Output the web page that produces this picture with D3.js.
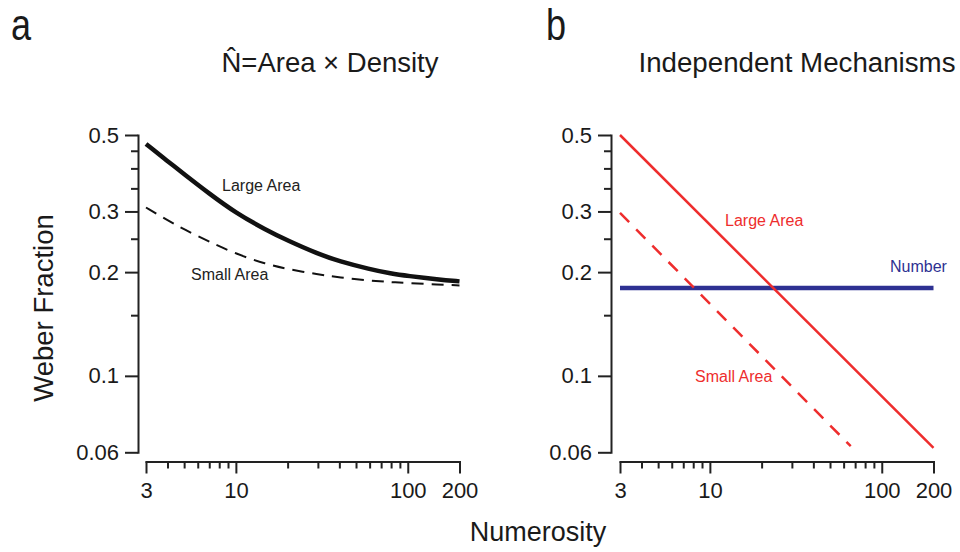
<!DOCTYPE html>
<html>
<head>
<meta charset="utf-8">
<script src="https://cdn.jsdelivr.net/npm/d3@7"></script>
<style>
  body { margin: 0; background: #fff; }
  svg { display: block; }
  text { font-family: "Liberation Sans", Arial, sans-serif; fill: #1a1a1a; }
  .axis path, .axis line { stroke: #222; stroke-width: 2; }
  .axis text { font-size: 22px; fill: #1a1a1a; font-family: "Liberation Sans", Arial, sans-serif; }
</style>
</head>
<body>
<script>
// x ticks (numerosity) and y ticks (weber fraction)
var xMajor = [3, 10, 100, 200];
var xMinor = [4, 5, 6, 7, 8, 9, 20, 30, 40, 50, 60, 70, 80, 90];
var yMajor = [0.5, 0.3, 0.2, 0.1, 0.06];
var yMinor = [0.45, 0.4, 0.35, 0.25, 0.15];

// panel a : N^ = Area x Density
var numerosityA = [3, 4, 5, 7, 10, 15, 20, 30, 40, 60, 80, 100, 150, 200];
var largeAreaA = [0.471, 0.42, 0.385, 0.338, 0.297, 0.265, 0.247, 0.226, 0.215, 0.204, 0.198, 0.195, 0.1905, 0.188];
var smallAreaA = [0.308, 0.283, 0.266, 0.245, 0.226, 0.211, 0.204, 0.197, 0.193, 0.189, 0.187, 0.186, 0.184, 0.183];

// panel b : independent mechanisms
var numerosityLargeB = [3, 200];
var largeAreaB = [0.5, 0.0618];
var numerositySmallB = [3, 66];
var smallAreaB = [0.297, 0.0625];
var numerosityNumberB = [3, 200];
var numberB = [0.18, 0.18];

var width = 960, height = 552;
var svg = d3.select('body').append('svg')
    .attr('width', width)
    .attr('height', height);

var yScale = d3.scaleLog().domain([0.06, 0.5]).range([452.3, 135]);

function zip(xs, ys) {
    return xs.map(function (x, i) { return { x: x, y: ys[i] }; });
}

function drawPanel(left, yAxisX) {
    var xScale = d3.scaleLog().domain([3, 200]).range([left, left + 313.5]);
    var fmt = function (d) { return d3.format('~g')(d); };

    // y axis
    var yAx = svg.append('g').attr('class', 'axis')
        .attr('transform', 'translate(' + yAxisX + ',0)');
    yAx.call(d3.axisLeft(yScale).tickValues(yMinor).tickSize(7).tickSizeOuter(0).tickFormat(''));
    yAx.append('g')
        .call(d3.axisLeft(yScale).tickValues(yMajor).tickSize(13).tickSizeOuter(0).tickPadding(6).tickFormat(fmt))
        .call(function (g) { g.select('.domain').remove(); });

    // x axis
    var xAx = svg.append('g').attr('class', 'axis')
        .attr('transform', 'translate(0,461.5)');
    xAx.call(d3.axisBottom(xScale).tickValues(xMinor).tickSize(7).tickSizeOuter(0).tickFormat(''));
    xAx.append('g')
        .call(d3.axisBottom(xScale).tickValues(xMajor).tickSize(12).tickSizeOuter(0).tickPadding(9).tickFormat(fmt))
        .call(function (g) { g.select('.domain').remove(); });

    svg.selectAll('.axis .domain').attr('stroke-linecap', 'square');
    return xScale;
}

function drawLine(xScale, data, color, w, dash, curved) {
    var line = d3.line()
        .x(function (d) { return xScale(d.x); })
        .y(function (d) { return yScale(d.y); });
    if (curved) line.curve(d3.curveBasis);
    svg.append('path')
        .datum(data)
        .attr('d', line)
        .attr('fill', 'none')
        .attr('stroke', color)
        .attr('stroke-width', w)
        .attr('stroke-dasharray', dash || null);
}

// panel a
var xA = drawPanel(146, 138);
drawLine(xA, zip(numerosityA, smallAreaA), '#111', 2, '12,8', true);
drawLine(xA, zip(numerosityA, largeAreaA), '#111', 4.5, null, true);

// panel b
var red = '#ee2d2d', navy = '#2e3192';
var xB = drawPanel(620, 611);
drawLine(xB, zip(numerosityNumberB, numberB), navy, 4.5, null, false);
drawLine(xB, zip(numerosityLargeB, largeAreaB), red, 2.5, null, false);
drawLine(xB, zip(numerositySmallB, smallAreaB), red, 2.5, '13,10', false);

// line labels
function label(x, y, txt, color) {
    svg.append('text').attr('x', x).attr('y', y)
        .style('font-size', '16px').style('fill', color).text(txt);
}
label(222, 191, 'Large Area', '#222');
label(191, 280, 'Small Area', '#222');
label(725, 226, 'Large Area', red);
label(695, 382, 'Small Area', red);
label(890, 272, 'Number', navy);

// titles
svg.append('text').attr('x', 330).attr('y', 72).attr('text-anchor', 'middle')
    .style('font-size', '27.5px').text('N\u0302=Area \u00d7 Density');
svg.append('text').attr('x', 797).attr('y', 72).attr('text-anchor', 'middle')
    .style('font-size', '27.7px').text('Independent Mechanisms');

// panel letters
svg.append('text').attr('transform', 'translate(11,40) scale(0.82,1)')
    .style('font-size', '44px').text('a');
svg.append('text').attr('transform', 'translate(546,40) scale(0.82,1)')
    .style('font-size', '44px').text('b');

// axis titles
svg.append('text').attr('x', 538).attr('y', 541).attr('text-anchor', 'middle')
    .style('font-size', '27px').text('Numerosity');
svg.append('text').attr('transform', 'translate(53,308) rotate(-90)')
    .attr('text-anchor', 'middle')
    .style('font-size', '27.5px').text('Weber Fraction');
</script>
</body>
</html>
